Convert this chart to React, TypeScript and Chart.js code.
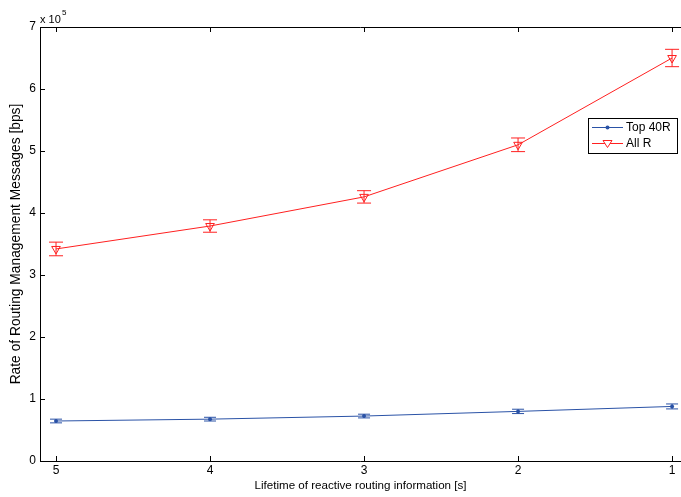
import React, { useEffect, useRef } from "react";
import { Chart, registerables } from "chart.js";

Chart.register(...registerables);

const xValues = [5, 4, 3, 2, 1];
const top40R = [0.645, 0.675, 0.725, 0.8, 0.88];
const top40RErr = [0.03, 0.03, 0.03, 0.035, 0.04];
const allR = [3.42, 3.79, 4.26, 5.1, 6.5];
const allRErr = [0.11, 0.1, 0.1, 0.11, 0.14];
const yTicks = [0, 1, 2, 3, 4, 5, 6, 7];
const xTicks = [5, 4, 3, 2, 1];
const seriesNames = ["Top 40R", "All R"];
const blue = "#2a52a6";
const red = "#ff2020";
const FONT = "'Liberation Sans', Arial, sans-serif";

const errPlugin = {
  id: "errbars",
  afterDatasetsDraw(chart: any) {
    const ctx = chart.ctx;
    const xs = chart.scales.x;
    const ys = chart.scales.y;
    const sets = [
      { v: top40R, e: top40RErr, c: blue, w: 6 },
      { v: allR, e: allRErr, c: red, w: 7 },
    ];
    ctx.save();
    ctx.lineWidth = 1;
    sets.forEach((s) => {
      ctx.strokeStyle = s.c;
      s.v.forEach((v, i) => {
        const x = xs.getPixelForValue(xValues[i]);
        const y1 = ys.getPixelForValue(v - s.e[i]);
        const y2 = ys.getPixelForValue(v + s.e[i]);
        ctx.beginPath();
        ctx.moveTo(x, y1);
        ctx.lineTo(x, y2);
        ctx.moveTo(x - s.w, y1);
        ctx.lineTo(x + s.w, y1);
        ctx.moveTo(x - s.w, y2);
        ctx.lineTo(x + s.w, y2);
        ctx.stroke();
      });
    });
    ctx.restore();
  },
  afterDraw(chart: any) {
    const ctx = chart.ctx;
    const xs = chart.scales.x;
    const ys = chart.scales.y;
    const a = chart.chartArea;
    ctx.save();
    ctx.strokeStyle = "#000";
    ctx.lineWidth = 1;
    ctx.beginPath();
    ctx.moveTo(a.left + 0.5, a.top);
    ctx.lineTo(a.left + 0.5, a.bottom + 0.5);
    ctx.lineTo(a.right, a.bottom + 0.5);
    ctx.moveTo(a.left, a.top + 0.5);
    ctx.lineTo(a.right, a.top + 0.5);
    ctx.stroke();
    ctx.beginPath();
    yTicks.forEach((t) => {
      const y = Math.round(ys.getPixelForValue(t)) + 0.5;
      ctx.moveTo(a.left, y);
      ctx.lineTo(a.left + 5, y);
    });
    xTicks.forEach((t) => {
      const x = Math.round(xs.getPixelForValue(t)) + 0.5;
      ctx.moveTo(x, a.bottom);
      ctx.lineTo(x, a.bottom - 5);
      ctx.moveTo(x, a.top);
      ctx.lineTo(x, a.top + 5);
    });
    ctx.stroke();
    ctx.fillStyle = "#000";
    ctx.font = `12px ${FONT}`;
    ctx.textAlign = "center";
    ctx.textBaseline = "top";
    xTicks.forEach((t) => {
      ctx.fillText(String(t), xs.getPixelForValue(t), a.bottom + 4);
    });
    ctx.font = `11px ${FONT}`;
    ctx.textAlign = "left";
    ctx.textBaseline = "alphabetic";
    ctx.fillText("x 10", a.left, a.top - 4);
    ctx.font = `8px ${FONT}`;
    ctx.fillText("5", a.left + 22, a.top - 12);
    const lx = 588, ly = 118, lw = 89, lh = 35;
    ctx.fillStyle = "#fff";
    ctx.fillRect(lx, ly, lw, lh);
    ctx.strokeStyle = "#000";
    ctx.strokeRect(lx + 0.5, ly + 0.5, lw, lh);
    const rows = [
      { y: ly + 9.5, c: blue, name: seriesNames[0], m: "dot" },
      { y: ly + 25.5, c: red, name: seriesNames[1], m: "tri" },
    ];
    rows.forEach((r) => {
      ctx.strokeStyle = r.c;
      ctx.beginPath();
      ctx.moveTo(lx + 4, r.y);
      ctx.lineTo(lx + 35, r.y);
      ctx.stroke();
      const cx = lx + 19.5;
      if (r.m === "dot") {
        ctx.fillStyle = r.c;
        ctx.beginPath();
        ctx.arc(cx, r.y, 2, 0, Math.PI * 2);
        ctx.fill();
      } else {
        ctx.fillStyle = "#fff";
        ctx.beginPath();
        ctx.moveTo(cx - 4.5, r.y - 3);
        ctx.lineTo(cx + 4.5, r.y - 3);
        ctx.lineTo(cx, r.y + 4);
        ctx.closePath();
        ctx.fill();
        ctx.stroke();
      }
      ctx.fillStyle = "#000";
      ctx.font = `12px ${FONT}`;
      ctx.textBaseline = "middle";
      ctx.fillText(r.name, lx + 38, r.y + 0.5);
    });
    ctx.restore();
  },
};

export default function App() {
  const ref = useRef<HTMLCanvasElement>(null);
  useEffect(() => {
    const chart = new Chart(ref.current!, {
      type: "line",
      data: {
        datasets: [
          {
            label: seriesNames[0],
            data: xValues.map((x, i) => ({ x, y: top40R[i] })),
            borderColor: blue,
            backgroundColor: blue,
            borderWidth: 1,
            pointStyle: "circle",
            pointRadius: 2,
            pointBorderWidth: 0,
          },
          {
            label: seriesNames[1],
            data: xValues.map((x, i) => ({ x, y: allR[i] })),
            borderColor: red,
            backgroundColor: "rgba(255,255,255,0)",
            borderWidth: 1,
            pointStyle: "triangle",
            rotation: 180,
            pointRadius: 5,
            pointBorderWidth: 1,
          },
        ],
      },
      options: {
        responsive: false,
        animation: false,
        layout: { autoPadding: false, padding: { top: 27, right: 0, left: 0, bottom: 0 } },
        plugins: { legend: { display: false }, tooltip: { enabled: false } },
        scales: {
          x: {
            type: "linear",
            reverse: true,
            min: 0.942,
            max: 5.104,
            afterBuildTicks: (s: any) => {
              s.ticks = xTicks.map((v) => ({ value: v }));
            },
            afterFit: (s: any) => {
              s.height = 36;
            },
            grid: { display: false, drawTicks: false },
            border: { display: false },
            ticks: { display: false },
            title: {
              display: true,
              text: "Lifetime of reactive routing information [s]",
              color: "#000",
              font: { family: FONT, size: 11.6 },
              padding: { top: 0, bottom: 4 },
            },
          },
          y: {
            type: "linear",
            min: 0,
            max: 7,
            afterBuildTicks: (s: any) => {
              s.ticks = yTicks.map((v) => ({ value: v }));
            },
            afterFit: (s: any) => {
              s.width = 40;
            },
            grid: { display: false, drawTicks: false },
            border: { display: false },
            ticks: {
              color: "#000",
              font: { family: FONT, size: 12 },
              padding: 4,
            },
            title: {
              display: true,
              text: "Rate of Routing Management Messages [bps]",
              color: "#000",
              font: { family: FONT, size: 13.8 },
              padding: { top: 8, bottom: 0 },
            },
          },
        },
      },
      plugins: [errPlugin],
    });
    return () => chart.destroy();
  }, []);
  return (
    <div style={{ position: "fixed", left: 0, top: 0, width: 681, height: 497, background: "#fff" }}>
      <canvas ref={ref} width={681} height={497} />
    </div>
  );
}
